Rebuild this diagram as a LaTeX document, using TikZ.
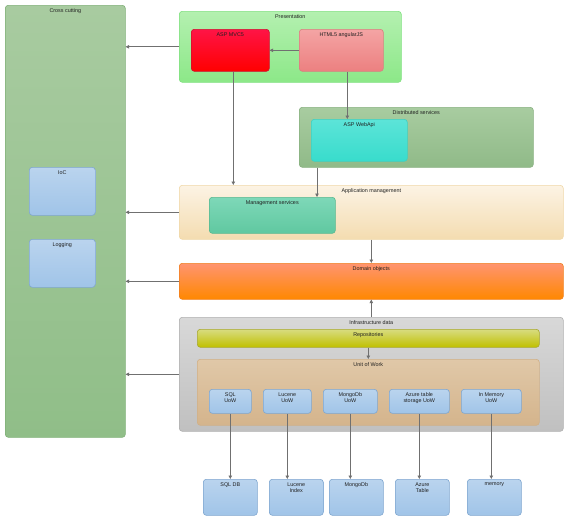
\documentclass[tikz,border=0pt]{standalone}
\usepackage{fontspec}
\setmainfont{Liberation Sans}
\usetikzlibrary{arrows.meta,positioning}

\definecolor{txt}{HTML}{202020}
\definecolor{arrgray}{HTML}{707070}

\tikzset{
  box/.style={rounded corners=3pt, line width=0.6pt, anchor=north west, inner sep=0pt},
  ttl/.style={label={[anchor=north, inner sep=3.2pt, align=center, text=txt, font=\fontsize{5.4}{6.4}\selectfont]north:#1}},
  greenbox/.style={box, draw={rgb,255:red,128;green,176;blue,120}, top color={rgb,255:red,168;green,203;blue,160}, bottom color={rgb,255:red,144;green,190;blue,136}},
  bluebox/.style={box, draw={rgb,255:red,127;green,166;blue,207}, top color={rgb,255:red,186;green,212;blue,238}, bottom color={rgb,255:red,160;green,196;blue,232}},
  arr/.style={draw=arrgray, line width=0.7pt, -{Triangle[length=3.5pt,width=3.5pt]}}
}

\begin{document}
\begin{tikzpicture}[x=1pt, y=-1pt]
\useasboundingbox (0,0) rectangle (568,520);

% cross cutting column
\node[greenbox, minimum width=120pt, minimum height=432pt, ttl=Cross cutting] (cross) at (5,5) {};
\node[bluebox, minimum width=66pt, minimum height=48pt, ttl=IoC] (ioc) at (29,167) {};
\node[bluebox, minimum width=66pt, minimum height=48pt, ttl=Logging] (logging) at (29,239) {};

% presentation
\node[box, draw={rgb,255:red,128;green,224;blue,128}, top color={rgb,255:red,180;green,240;blue,176}, bottom color={rgb,255:red,140;green,232;blue,136},
      minimum width=222pt, minimum height=71pt, ttl=Presentation] (pres) at (179,11) {};
\node[box, draw={rgb,255:red,208;green,16;blue,48}, top color={rgb,255:red,255;green,20;blue,70}, bottom color={rgb,255:red,255;green,0;blue,0},
      minimum width=78pt, minimum height=42pt, ttl=ASP MVC5] (mvc) at (191,29) {};
\node[box, draw={rgb,255:red,216;green,128;blue,128}, top color={rgb,255:red,244;green,164;blue,164}, bottom color={rgb,255:red,236;green,128;blue,128},
      minimum width=84pt, minimum height=42pt, ttl=HTML5 angularJS] (html) at (299,29) {};

% distributed services
\node[box, draw={rgb,255:red,136;green,176;blue,128}, top color={rgb,255:red,168;green,204;blue,160}, bottom color={rgb,255:red,144;green,186;blue,136},
      minimum width=234pt, minimum height=60pt, ttl=Distributed services] (dist) at (299,107) {};
\node[box, draw={rgb,255:red,64;green,208;blue,192}, top color={rgb,255:red,92;green,228;blue,216}, bottom color={rgb,255:red,56;green,220;blue,204},
      minimum width=96pt, minimum height=42pt, ttl=ASP WebApi] (webapi) at (311,119) {};

% application management
\node[box, draw={rgb,255:red,240;green,216;blue,168}, top color={rgb,255:red,252;green,243;blue,228}, bottom color={rgb,255:red,244;green,220;blue,176},
      minimum width=384pt, minimum height=54pt, ttl=Application management] (appm) at (179,185) {};
\node[box, draw={rgb,255:red,88;green,184;blue,144}, top color={rgb,255:red,126;green,216;blue,184}, bottom color={rgb,255:red,96;green,200;blue,160},
      minimum width=126pt, minimum height=36pt, ttl=Management services] (mgmt) at (209,197) {};

% domain
\node[box, draw={rgb,255:red,240;green,128;blue,32}, top color={rgb,255:red,255;green,148;blue,112}, bottom color={rgb,255:red,255;green,136;blue,0},
      minimum width=384pt, minimum height=36pt, ttl=Domain objects] (domain) at (179,263) {};

% infrastructure
\node[box, draw={rgb,255:red,176;green,176;blue,176}, top color={rgb,255:red,216;green,216;blue,216}, bottom color={rgb,255:red,192;green,192;blue,192},
      minimum width=384pt, minimum height=114pt, ttl=Infrastructure data] (infra) at (179,317) {};
\node[box, draw={rgb,255:red,168;green,168;blue,48}, top color={rgb,255:red,216;green,220;blue,128}, bottom color={rgb,255:red,192;green,192;blue,0},
      minimum width=342pt, minimum height=18pt, ttl=Repositories] (repo) at (197,329) {};
\node[box, draw={rgb,255:red,208;green,176;blue,136}, top color={rgb,255:red,224;green,200;blue,168}, bottom color={rgb,255:red,212;green,180;blue,140},
      minimum width=342pt, minimum height=66pt, ttl=Unit of Work] (uow) at (197,359) {};

\node[bluebox, minimum width=42pt, minimum height=24pt, ttl={SQL\\UoW}] (sqluow) at (209,389) {};
\node[bluebox, minimum width=48pt, minimum height=24pt, ttl={Lucene\\UoW}] (lucuow) at (263,389) {};
\node[bluebox, minimum width=54pt, minimum height=24pt, ttl={MongoDb\\UoW}] (mongouow) at (323,389) {};
\node[bluebox, minimum width=60pt, minimum height=24pt, ttl={Azure table\\storage UoW}] (azuow) at (389,389) {};
\node[bluebox, minimum width=60pt, minimum height=24pt, ttl={In Memory\\UoW}] (memuow) at (461,389) {};

% stores
\node[bluebox, minimum width=54pt, minimum height=36pt, ttl=SQL DB] (sqldb) at (203,479) {};
\node[bluebox, minimum width=54pt, minimum height=36pt, ttl={Lucene\\Index}] (lucdb) at (269,479) {};
\node[bluebox, minimum width=54pt, minimum height=36pt, ttl=MongoDb] (mongodb) at (329,479) {};
\node[bluebox, minimum width=54pt, minimum height=36pt, ttl={Azure\\Table}] (azdb) at (395,479) {};
\node[bluebox, minimum width=54pt, minimum height=36pt, ttl=memory] (memdb) at (467,479) {};

% connectors
\draw[arr] (pres.west) -- (pres.west -| cross.east);
\draw[arr] (appm.west) -- (appm.west -| cross.east);
\draw[arr] (domain.west) -- (domain.west -| cross.east);
\draw[arr] (infra.west) -- (infra.west -| cross.east);
\draw[arr] (html.west) -- (mvc.east);
\draw[arr] ([xshift=3pt]mvc.south) -- ([xshift=3pt]mvc.south |- appm.north);
\draw[arr] ([xshift=6pt]html.south) -- ([xshift=6pt]html.south |- webapi.north);
\draw[arr] ([xshift=18pt]dist.south west) -- ([xshift=18pt]dist.south west |- mgmt.north);
\draw[arr] (appm.south) -- (domain.north);
\draw[arr] (infra.north) -- (domain.south);
\draw[arr] (repo.south) -- (uow.north);
\foreach \u/\d in {sqluow/sqldb, lucuow/lucdb, mongouow/mongodb, azuow/azdb, memuow/memdb}
  \draw[arr] (\u.south) -- (\u.south |- \d.north);
\end{tikzpicture}
\end{document}
